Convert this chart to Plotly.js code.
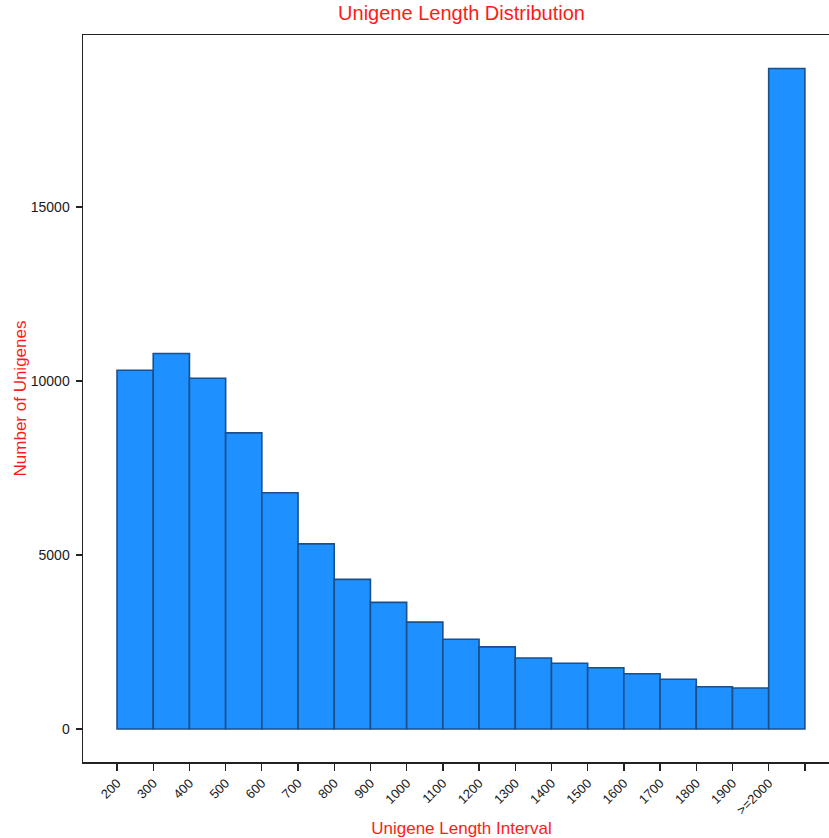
<!DOCTYPE html>
<html>
<head>
<meta charset="utf-8">
<script src="https://cdn.plot.ly/plotly-3.0.1.min.js"></script>
<style>
html,body{margin:0;padding:0;overflow:hidden;background:#fff;}
#chart{width:840px;height:838px;}
</style>
</head>
<body>
<div id="chart"></div>
<script>
const categories = ["200","300","400","500","600","700","800","900","1000","1100","1200","1300","1400","1500","1600","1700","1800","1900",">=2000"];
const binStarts = [200,300,400,500,600,700,800,900,1000,1100,1200,1300,1400,1500,1600,1700,1800,1900,2000];
const binWidth = 100;
const counts = [10310,10790,10080,8510,6790,5320,4300,3640,3070,2580,2360,2040,1890,1760,1590,1430,1215,1178,18980];
const yTicks = [0,5000,10000,15000];

const tickVals = binStarts.concat([binStarts[binStarts.length-1] + binWidth]);
const tickText = categories.concat([""]);

const trace = {
  type: "bar",
  x: binStarts,
  y: counts,
  width: binWidth,
  offset: 0,
  marker: {color: "#1E90FF", line: {color: "#1A4F8C", width: 1.6}},
  hoverinfo: "x+y"
};

const font = "Liberation Sans, Arial, Helvetica, sans-serif";

const layout = {
  width: 840,
  height: 838,
  margin: {l: 83, r: 0, t: 35, b: 76},
  paper_bgcolor: "#fff",
  plot_bgcolor: "#fff",
  showlegend: false,
  bargap: 0,
  font: {family: font, size: 13, color: "#222"},
  title: {
    text: "Unigene Length Distribution",
    font: {family: font, size: 20, color: "#FF1A1A"},
    x: 0.5, xref: "paper", xanchor: "center",
    y: 1, yref: "container", yanchor: "top", pad: {t: 6}
  },
  xaxis: {
    range: [106, 2197],
    tickmode: "array",
    tickvals: tickVals,
    ticktext: tickText,
    tickangle: -45,
    ticks: "outside",
    ticklen: 7,
    tickwidth: 1.3,
    tickcolor: "#222",
    tickfont: {family: font, size: 13, color: "#1a1a1a"},
    showline: true,
    linecolor: "#222",
    linewidth: 1.5,
    mirror: true,
    showgrid: false,
    zeroline: false,
    title: {text: "Unigene Length Interval", font: {family: font, size: 17, color: "#FF1A1A"}, standoff: 6}
  },
  yaxis: {
    range: [-948, 19943],
    tickmode: "array",
    tickvals: yTicks,
    ticktext: yTicks.map(String),
    ticks: "outside",
    ticklen: 6,
    tickwidth: 1.3,
    tickcolor: "#222",
    ticklabelstandoff: 3,
    tickfont: {family: font, size: 14, color: "#1a1a1a"},
    showline: true,
    linecolor: "#222",
    linewidth: 1.5,
    mirror: true,
    showgrid: false,
    zeroline: false,
    title: {text: "Number of Unigenes", font: {family: font, size: 17, color: "#FF1A1A"}, standoff: 0}
  }
};

Plotly.newPlot("chart", [trace], layout, {displayModeBar: false, staticPlot: true});
</script>
</body>
</html>
